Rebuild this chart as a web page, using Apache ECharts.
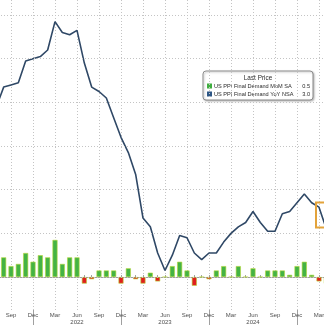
<!DOCTYPE html>
<html>
<head>
<meta charset="utf-8">
<script src="https://cdn.jsdelivr.net/npm/echarts@6/dist/echarts.min.js"></script>
<style>
  html, body { margin: 0; padding: 0; background: #ffffff; }
  #chart { width: 324px; height: 325px; }
</style>
</head>
<body>
<div id="chart"></div>
<script>
// Monthly axis: Jun 2021 .. Jun 2025 (ends fall just outside the plot window)
const startYear = 2021, startMonth = 6, monthCount = 49;
const monthNames = ['Jan','Feb','Mar','Apr','May','Jun','Jul','Aug','Sep','Oct','Nov','Dec'];
const months = [];
for (let i = 0; i < monthCount; i++) {
  const m0 = startMonth - 1 + i;
  const y = startYear + Math.floor(m0 / 12);
  const m = (m0 % 12) + 1;
  months.push(y + '-' + (m < 10 ? '0' + m : m));
}

// US PPI Final Demand YoY NSA (%)
const ppiYoY = [
  null,
  7.8, 8.7, 8.8, 8.9, 9.9, 10.0,
  10.1, 10.4, 11.7, 11.2, 11.1, 11.3, 9.8, 8.7, 8.5, 8.2, 7.3, 6.4,
  5.7, 4.7, 2.7, 2.3, 1.1, 0.3, 1.0, 1.9, 1.8, 1.1, 0.8, 1.1,
  1.1, 1.6, 2.0, 2.3, 2.5, 3.0, 2.5, 2.1, 2.1, 2.9, 3.0, 3.4,
  3.8, 3.4, 3.2, 2.2,
  null, null
];

// US PPI Final Demand MoM SA (%)
const ppiMoM = [
  null,
  null, 0.9, 0.5, 0.6, 1.1, 0.7,
  1.0, 0.9, 1.7, 0.6, 0.9, 0.9, -0.3, -0.1, 0.3, 0.3, 0.3, -0.3,
  0.4, -0.1, -0.3, 0.2, -0.2, 0.0, 0.5, 0.7, 0.3, -0.4, 0.0, -0.1,
  0.3, 0.5, 0.0, 0.5, 0.0, 0.4, 0.0, 0.3, 0.3, 0.3, 0.1, 0.5,
  0.7, 0.1, -0.2, -0.3,
  null, null
];

// Horizontal grid levels
const gridLevels = [0, 2, 4, 6, 8, 10, 12];

// Legend rows: label, colour, last price
const legendLabels = ['US PPI Final Demand MoM SA', 'US PPI Final Demand YoY NSA'];
const legendColors = ['#3fae3f', '#2d5685'];
const legendLast = ['0.5', '3.0'];

const GREEN = '#44b344', RED = '#e01e1e', LINE = '#2f4866';
const FONT = 'Liberation Sans, Arial, sans-serif';
const isQuarter = (idx) => { const m = +months[idx].slice(5); return m % 3 === 0; };
const isMonth = (idx, m) => +months[idx].slice(5) === m;

const chart = echarts.init(document.getElementById('chart'), null, { renderer: 'canvas' });

const legendRows = [];
legendLabels.forEach((label, i) => {
  const y = 83.5 + i * 8;
  legendRows.push({ type: 'rect', shape: { x: 207, y: y, width: 5, height: 5 },
    style: { fill: legendColors[i] } });
  legendRows.push({ type: 'text', x: 214, y: y + 2.6,
    style: { text: label, fill: '#2a2a2a', font: '5.6px ' + FONT, textVerticalAlign: 'middle' } });
  legendRows.push({ type: 'text', x: 310, y: y + 2.6,
    style: { text: legendLast[i], fill: '#2a2a2a', font: '5.6px ' + FONT, textAlign: 'right', textVerticalAlign: 'middle' } });
});

chart.setOption({
  animation: false,
  backgroundColor: '#ffffff',
  grid: { left: -11, right: -17, top: 0, bottom: 15, containLabel: false, outerBoundsMode: 'none' },
  xAxis: [
    {
      type: 'category', data: months, boundaryGap: false,
      axisLine: { show: true, lineStyle: { color: '#a0a0a0', width: 1 } },
      axisTick: { show: true, inside: true, length: 2, interval: 0, lineStyle: { color: '#a0a0a0' } },
      axisLabel: {
        interval: (idx) => isQuarter(idx),
        formatter: (v) => monthNames[+v.slice(5) - 1],
        color: '#505050', fontSize: 6, fontFamily: FONT, margin: 2
      },
      splitLine: { show: true, interval: (idx) => isQuarter(idx),
        lineStyle: { color: '#c4c4c4', type: [1, 2], width: 1 } }
    },
    {
      type: 'category', data: months, boundaryGap: false, position: 'bottom',
      axisLine: { show: false },
      axisTick: { show: true, length: 16, interval: (idx) => isMonth(idx, 12),
        lineStyle: { color: '#a0a0a0' } },
      axisLabel: {
        interval: (idx) => isMonth(idx, 6),
        formatter: (v) => v.slice(0, 4),
        color: '#505050', fontSize: 6, fontFamily: FONT, margin: 9
      },
      splitLine: { show: false }
    }
  ],
  yAxis: {
    type: 'value', min: -1.51, max: 12.69,
    axisLine: { show: false }, axisTick: { show: false }, axisLabel: { show: false },
    splitLine: { show: false }
  },
  series: [
    {
      name: 'grid', type: 'line', data: months.map(() => null), silent: true, z: 0,
      markLine: {
        silent: true, symbol: 'none', label: { show: false },
        lineStyle: { color: '#c4c4c4', type: [1, 2], width: 1 },
        data: gridLevels.map((v) => ({ yAxis: v }))
      }
    },
    {
      name: legendLabels[0], type: 'bar', data: ppiMoM, barWidth: 5, z: 2,
      itemStyle: {
        color: (p) => (p.value < 0 ? RED : GREEN),
        borderColor: (p) => (p.value < 0 ? '#8e1212' : '#3a9a3a'),
        borderWidth: 0.6
      }
    },
    {
      name: legendLabels[1], type: 'line', data: ppiYoY, z: 3,
      symbol: 'none', smooth: false, connectNulls: false,
      lineStyle: { color: LINE, width: 1.6 }
    }
  ],
  graphic: [
    {
      type: 'group', z: 100,
      children: [
        { type: 'rect', shape: { x: 203, y: 71, width: 110, height: 29, r: 3 },
          style: { fill: '#ffffff', stroke: '#8c8c8c', lineWidth: 1,
            shadowBlur: 2, shadowColor: 'rgba(0,0,0,0.25)', shadowOffsetX: 1, shadowOffsetY: 1 } },
        { type: 'text', x: 258, y: 78.5,
          style: { text: 'Last Price', fill: '#2a2a2a', font: '6.4px ' + FONT, textAlign: 'center', textVerticalAlign: 'middle' } }
      ].concat(legendRows)
    },
    { type: 'rect', z: 90, shape: { x: 316, y: 202.5, width: 30, height: 25 },
      style: { fill: 'none', stroke: '#e3a33b', lineWidth: 2 } }
  ]
});
</script>
</body>
</html>
